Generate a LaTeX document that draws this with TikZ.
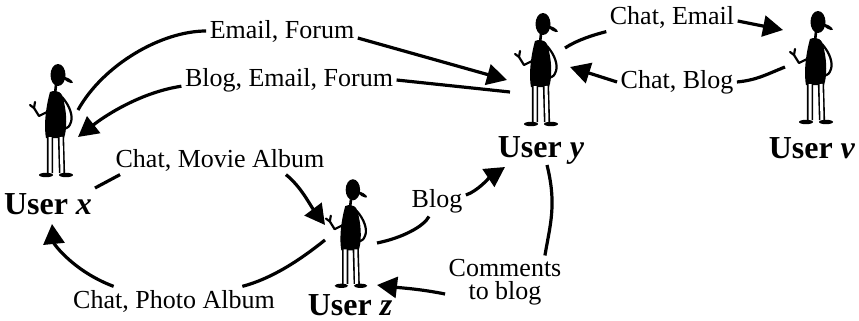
\documentclass[tikz,border=0pt]{standalone}
\usepackage{fontspec}
\setmainfont{LiberationSerif}[Extension=.ttf, UprightFont=*-Regular, BoldFont=*-Bold,
  ItalicFont=*-Italic, BoldItalicFont=*-BoldItalic]
\usetikzlibrary{arrows.meta,calc}

\tikzset{
  person/.pic={
    % head and cap
    \fill (3,-45) ellipse [x radius=7.5, y radius=11];
    \fill[rotate around={-30:(13,-40)}] (13,-40) ellipse [x radius=5.5, y radius=1.8];
    % neck and body
    \draw[line width=1.3pt] (1,-35) -- (0,-26);
    \fill (-5,-28) .. controls (2,-31) and (8,-28) .. (9,-18)
                   .. controls (12,-5) and (12,10) .. (9,18)
                   -- (-9,18) .. controls (-11,8) and (-10,-10) .. (-5,-28) -- cycle;
    % arms
    \draw[line width=1.1pt, line join=round, line cap=round]
      (-6,-9) -- (-16,-4) -- (-21,-12) -- (-25,-15) (-21,-12) -- (-20,-18);
    \draw[line width=1.1pt] (7,-23) .. controls (15,-14) and (18,-4) .. (16,2) .. controls (14,7) .. (9,9);
    % legs and feet
    \draw[line width=.8pt, double, double distance=1.5pt] (-5,17) -- (-5,53) (6,17) -- (7,53);
    \fill (-9,55) ellipse [x radius=7, y radius=2.2];
    \fill (11,55) ellipse [x radius=7, y radius=2.2];
  }
}

\begin{document}
\begin{tikzpicture}[x=0.5pt, y=-0.5pt, line width=1.6pt,
    font=\fontsize{13}{11.5}\selectfont,
    lbl/.style={inner sep=1pt, align=center},
    who/.style={inner sep=1pt, font=\fontsize{16}{18}\selectfont\bfseries},
    link/.style={-{Triangle[length=10pt, width=10.5pt]}}]
  \useasboundingbox (0,0) rectangle (859,321);

  \node[inner sep=0]  (X)   at ( 55,120)   {};
  \node[inner sep=0]  (Y)   at (540, 69)   {};
  \node[inner sep=0]  (V)   at (815, 67)   {};
  \node[inner sep=0]  (Z)   at (350,233)   {};
  \pic at (X) {person};
  \pic at (Y) {person};
  \pic at (V) {person};
  \pic[scale=.96] at (Z) {person};

  \node[who]  (XL)  at ( 48,204)   {User \textit{x}};
  \node[who]  (YL)  at (541,150)   {User \textit{y}};
  \node[who]  (VL)  at (812,148)   {User \textit{v}};
  \node[who]  (ZL)  at (350,305)   {User \textit{z}};

  \node[lbl]  (EF)  at (282, 31)   {Email, Forum};
  \node[lbl]  (BEF) at (289, 80)   {Blog, Email, Forum};
  \node[lbl]  (CE)  at (672, 17)   {Chat, Email};
  \node[lbl]  (CB)  at (677, 82)   {Chat, Blog};
  \node[lbl]  (CMA) at (220,160)   {Chat, Movie Album};
  \node[lbl]  (B)   at (437,201)   {Blog};
  \node[lbl]  (CTB) at (505,282)   {Comments \\ to blog};
  \node[lbl]  (CPA) at (174,301)   {Chat, Photo Album};

  % x and y
  \draw ($(X)+(23,-10)$) .. controls +(25,-45) and +(-45,0) .. (EF.west);
  \draw[link] (EF.base east) -- ($(Y)+(-33,11)$);
  \draw ($(Y)+(-30,23)$) -- (BEF.east);
  \draw[link] (BEF.base west) .. controls +(-40,6) and +(28,-22) .. ($(X)+(23,17)$);

  % y and v
  \draw ($(Y)+(25,-21)$) .. controls +(12,-8) and +(-12,3) .. (CE.south west);
  \draw[link] ([yshift=-2pt]CE.east) -- ($(V)+(-32,-37)$);
  \draw ($(V)+(-30,0)$) .. controls +(-20,8) and +(20,-2) .. (CB.east);
  \draw[link] (CB.west) -- ($(Y)+(30,-2)$);

  % x, y and z
  \draw ($(X)+(40,68)$) -- ([xshift=4pt]CMA.south west);
  \draw[link] ([xshift=-21pt]CMA.south east) .. controls +(15,12) and +(-15,-20) .. ($(Z)+(-25,-8)$);
  \draw ($(Z)+(27,10)$) .. controls +(25,-5) and +(-5,10) .. ([xshift=-4pt]B.south);
  \draw[link] ([yshift=3pt]B.east) .. controls +(12,-4) and +(-15,10) .. ($(YL)+(-36,17)$);
  \draw ($(YL)+(6,15)$) .. controls +(10,40) and +(5,-30) .. ([xshift=-10pt]CTB.north east);
  \draw[link] ([yshift=-6pt]CTB.west) .. controls +(-25,-5) and +(25,3) .. ($(Z)+(27,52)$);
  \draw ($(Z)+(-25,7)$) .. controls +(-25,20) and +(30,-8) .. ([xshift=-18pt]CPA.north east);
  \draw[link] ([xshift=22pt]CPA.north west) .. controls +(-40,-15) and +(2,20) .. ($(XL)+(4,20)$);
\end{tikzpicture}
\end{document}
